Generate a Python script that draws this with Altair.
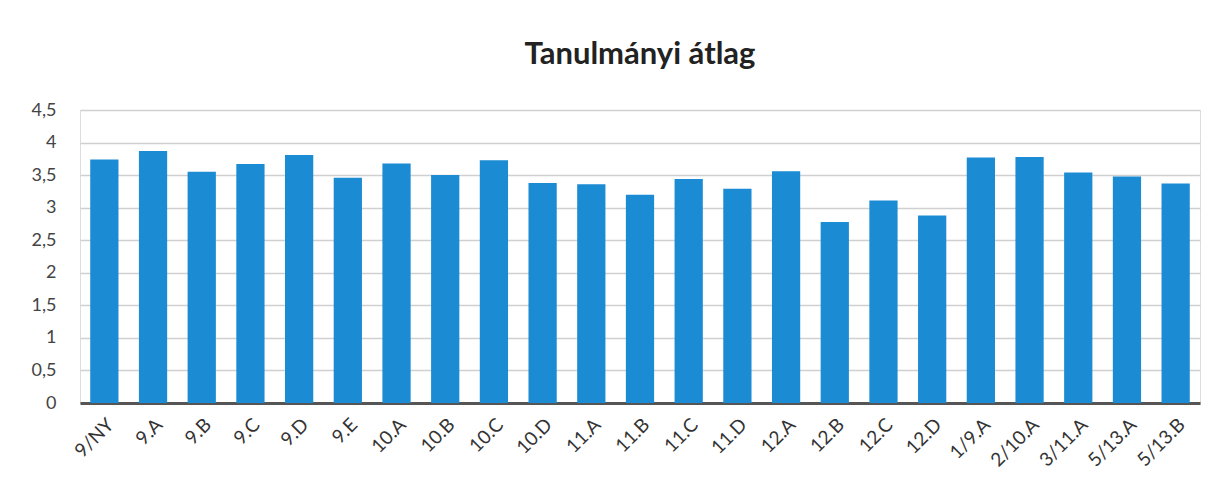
import altair as alt
import pandas as pd

classes = ["9/NY", "9.A", "9.B", "9.C", "9.D", "9.E", "10.A", "10.B", "10.C", "10.D",
           "11.A", "11.B", "11.C", "11.D", "12.A", "12.B", "12.C", "12.D",
           "1/9.A", "2/10.A", "3/11.A", "5/13.A", "5/13.B"]
averages = [3.74, 3.87, 3.55, 3.67, 3.81, 3.46, 3.68, 3.50, 3.73, 3.38,
            3.36, 3.20, 3.44, 3.29, 3.56, 2.78, 3.11, 2.88,
            3.77, 3.78, 3.54, 3.48, 3.37]
y_ticks = [0, 0.5, 1, 1.5, 2, 2.5, 3, 3.5, 4, 4.5]

df = pd.DataFrame({"osztaly": classes, "atlag": averages})

chart = alt.Chart(df).mark_bar(color="#1b8bd3").encode(
    x=alt.X("osztaly:N", sort=classes, title=None,
            scale=alt.Scale(paddingInner=0.42, paddingOuter=0.21),
            axis=alt.Axis(labelAngle=-45, labelFontSize=19, labelColor="#333333",
                          domainColor="#555555", domainWidth=3, ticks=False,
                          labelPadding=12, labelFont="Lato")),
    y=alt.Y("atlag:Q", title=None,
            scale=alt.Scale(domain=[0, 4.5], nice=False),
            axis=alt.Axis(values=y_ticks, labelFontSize=18, labelColor="#444444",
                          labelFont="Lato", domain=False, ticks=False, labelPadding=24,
                          gridColor="#d0d0d0", gridWidth=1.5,
                          labelExpr="replace(toString(datum.value), '.', ',')")),
).properties(
    width=1120,
    height=293,
    title=alt.TitleParams("Tanulmányi átlag", fontSize=31, font="Lato",
                          fontWeight="bold", color="#222222", offset=30),
    autosize=alt.AutoSizeParams(type="none"),
    padding={"left": 72, "top": 102, "right": 20, "bottom": 80},
).configure_view(stroke=None).configure(background="#ffffff")

chart.save("out.html", embed_options={"renderer": "svg", "actions": False})
